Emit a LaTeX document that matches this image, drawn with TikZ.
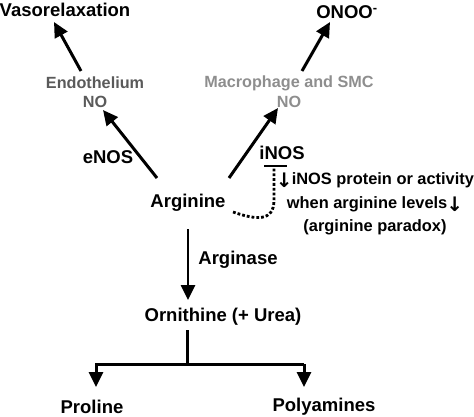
\documentclass[tikz,border=0pt]{standalone}
\usepackage{fontspec}
\setmainfont{Liberation Sans}
\newfontfamily\arrowfont{DejaVu Sans}
\usetikzlibrary{arrows.meta}
\definecolor{darkgr}{HTML}{5A5A5A}
\definecolor{lightgr}{HTML}{8E8E8E}
\newcommand{\dnarrow}{{\arrowfont\fontsize{20}{20}\selectfont\raisebox{-3pt}{↓}}}
\tikzset{
  lbl/.style={font=\bfseries\fontsize{18.5}{22}\selectfont, inner sep=0pt},
  glbl/.style={font=\bfseries\fontsize{16.2}{20}\selectfont, inner sep=0pt},
  arr/.style={line width=3pt, -{Triangle[length=15pt,width=14pt]}},
  ln/.style={line width=3pt},
}
\begin{document}
\begin{tikzpicture}[x=1pt,y=-1pt]
\useasboundingbox (0,0) rectangle (474,417);
% text nodes
\node[lbl] (vaso) at (65,10) {Vasorelaxation};
\node[lbl] (onoo) at (347,12) {ONOO\textsuperscript{-}};
\node[glbl, text=darkgr] (endo) at (95,83) {Endothelium};
\node[glbl, text=darkgr] (eno) at (95,102) {NO};
\node[glbl, text=lightgr] (macro) at (289,83) {Macrophage and SMC};
\node[glbl, text=lightgr] (mno) at (289,102) {NO};
\node[lbl] (enos) at (108,157) {eNOS};
\node[lbl] (inos) at (282,153) {iNOS};
\node[lbl] (arg) at (188,203) {Arginine};
\node[lbl] (argase) at (238,260) {Arginase};
\node[lbl] (orn) at (223,317) {Ornithine (+ Urea)};
\node[lbl] (pro) at (92,407) {Proline};
\node[lbl] (poly) at (324,407) {Polyamines};
\node[font=\bfseries\fontsize{16.4}{23.5}\selectfont, inner sep=0pt, align=center] (note) at (375,204)
  {\dnarrow\kern-1pt iNOS protein or activity\\ when arginine levels\kern-1pt\dnarrow\\ (arginine paradox)};
% coordinates
\coordinate (a1) at (81,71);   \coordinate (a1t) at (54,22);
\coordinate (a2) at (302,71);  \coordinate (a2t) at (330,22);
\coordinate (a3) at (157,178); \coordinate (a3t) at (103,110);
\coordinate (a4) at (229,178); \coordinate (a4t) at (278,108);
\coordinate (a5) at (188,229); \coordinate (a5t) at (188,300);
\coordinate (b0) at (187,330); \coordinate (b1) at (187,364);
\coordinate (bl) at (96,364);  \coordinate (blt) at (96,387);
\coordinate (br) at (304,364); \coordinate (brt) at (304,387);
\coordinate (d0) at (233,212); \coordinate (d1) at (274,167);
\coordinate (tl) at (264,166); \coordinate (tr) at (287,166);
% connectors
\draw[arr] (a1) -- (a1t);
\draw[arr] (a2) -- (a2t);
\draw[arr] (a3) -- (a3t);
\draw[arr] (a4) -- (a4t);
\draw[arr, line width=2.6pt] (a5) -- (a5t);
\draw[ln] (b0) -- (b1);
\draw[line width=3pt, line join=miter, -{Triangle[length=15pt,width=14pt]}] (br) -- (bl) -- (blt);
\draw[arr] (br) -- (brt);
\draw[line width=2.8pt, dotted] (d0) .. controls (256,220) and (274,222) .. (274,200) -- (d1);
\draw[line width=2.8pt] (tl) -- (tr);
\end{tikzpicture}
\end{document}
